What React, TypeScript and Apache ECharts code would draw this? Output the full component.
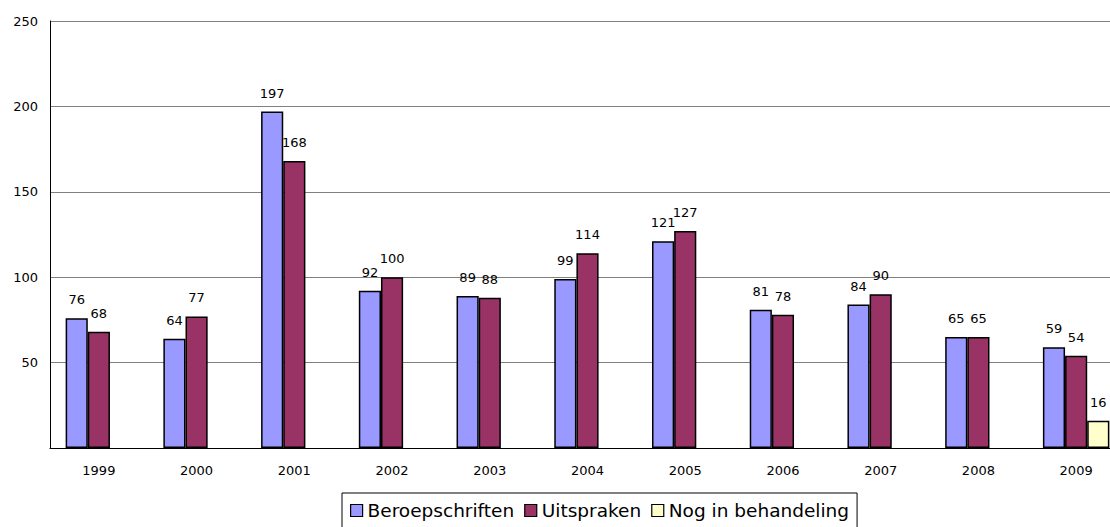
import React, { useEffect, useRef } from "react";
import * as echarts from "echarts";

const years = ["1999", "2000", "2001", "2002", "2003", "2004", "2005", "2006", "2007", "2008", "2009"];
const beroepschriften = [76, 64, 197, 92, 89, 99, 121, 81, 84, 65, 59];
const uitspraken = [68, 77, 168, 100, 88, 114, 127, 78, 90, 65, 54];
const nogInBehandeling = [null, null, null, null, null, null, null, null, null, null, 16];

const FONT = "'DejaVu Sans', sans-serif";

export default function App() {
  const ref = useRef<HTMLDivElement>(null);
  useEffect(() => {
    if (!ref.current) return;
    const chart = echarts.init(ref.current, undefined, { renderer: "svg" });
    const label = {
      show: true,
      position: "top",
      distance: 12,
      color: "#000",
      fontSize: 13,
      fontFamily: FONT,
    };
    const mk = (name: string, data: any[], color: string) => ({
      name,
      type: "bar",
      data,
      barGap: "0%",
      barCategoryGap: "32%",
      itemStyle: { color, borderColor: "#000", borderWidth: 1.5 },
      label,
    });
    chart.setOption({
      animation: false,
      textStyle: { fontFamily: FONT },
      grid: { left: 50, top: 21, right: 0, height: 427, containLabel: false },
      legend: {
        left: 342,
        top: 493,
        itemWidth: 12,
        itemHeight: 12,
        itemGap: 10,
        padding: [8, 8, 10, 8],
        borderColor: "#000",
        borderWidth: 1,
        backgroundColor: "#fff",
        icon: "rect",
        textStyle: { fontSize: 18.5, color: "#000", fontFamily: FONT, padding: [0, 0, 0, 0] },
        itemStyle: { borderColor: "#000", borderWidth: 1.2 },
        data: ["Beroepschriften", "Uitspraken", "Nog in behandeling"],
      },
      xAxis: {
        type: "category",
        data: years,
        axisLine: { lineStyle: { color: "#000", width: 1 } },
        axisTick: { show: false },
        axisLabel: { color: "#000", fontSize: 13, fontFamily: FONT, margin: 16 },
      },
      yAxis: {
        type: "value",
        min: 0,
        max: 250,
        interval: 50,
        axisLine: { show: true, lineStyle: { color: "#000", width: 1 } },
        axisTick: { show: false },
        splitLine: { lineStyle: { color: "#808080", width: 1 } },
        axisLabel: {
          color: "#000",
          fontSize: 13,
          fontFamily: FONT,
          margin: 12,
          formatter: (v: number) => (v === 0 ? "" : String(v)),
        },
      },
      series: [
        mk("Beroepschriften", beroepschriften, "#9999FF"),
        mk("Uitspraken", uitspraken, "#993366"),
        mk("Nog in behandeling", nogInBehandeling, "#FFFFCC"),
      ],
    });
    return () => chart.dispose();
  }, []);
  return (
    <div style={{ position: "absolute", left: 0, top: 0, width: 1110, height: 527, overflow: "hidden", background: "#fff" }}>
      <div ref={ref} style={{ width: 1125, height: 527 }} />
    </div>
  );
}
